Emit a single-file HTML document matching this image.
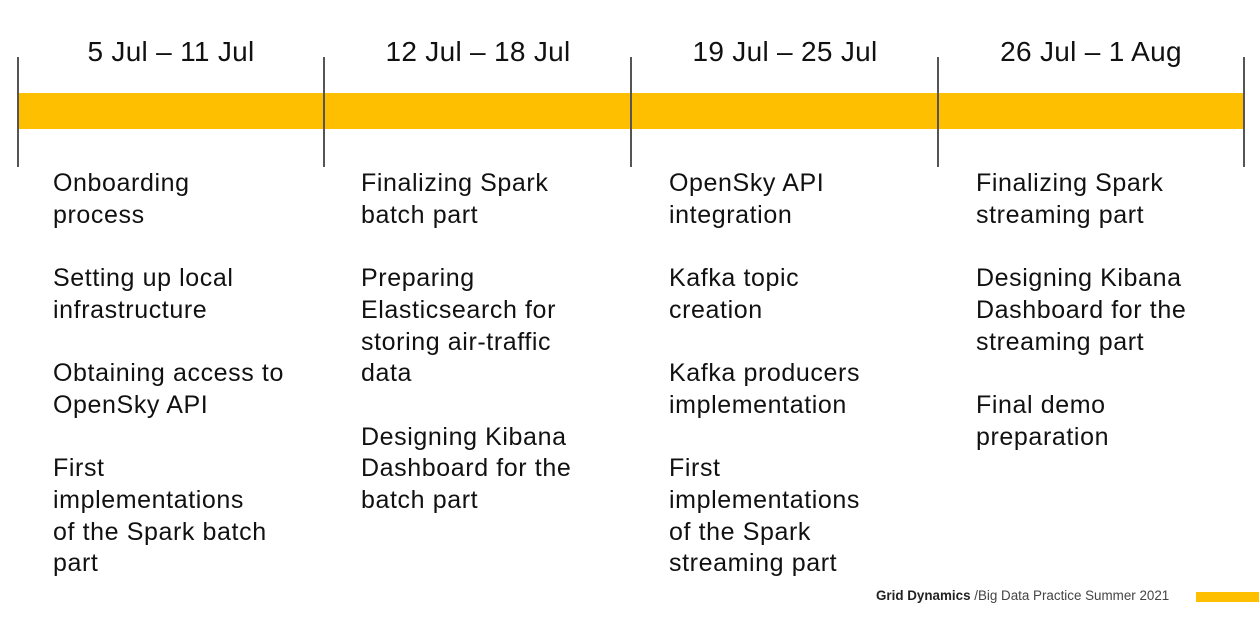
<!DOCTYPE html>
<html><head><meta charset="utf-8"><style>
body{margin:0;width:1259px;height:631px;background:#fff;position:relative;overflow:hidden;font-family:"Liberation Sans",sans-serif;color:#111}
.bar{position:absolute;left:18px;width:1226px;top:93px;height:36px;background:#fdbf00}
.vl{position:absolute;top:57px;width:2px;height:110px;background:#555}
.h{position:absolute;top:34px;width:306px;text-align:center;font-size:28px;line-height:36px;letter-spacing:0.3px}
.col{position:absolute;top:168px;font-size:25px;letter-spacing:0.6px;line-height:31.7px;width:280px}
.col p{margin:0 0 31.7px 0}
.foot{position:absolute;left:876px;top:588px;font-size:13.4px;color:#444}
.foot b{color:#222}
.fb{position:absolute;left:1196px;top:592px;width:63px;height:10px;background:#fdbf00}
</style></head><body>
<div class="bar"></div>
<div class="vl" style="left:17px"></div>
<div class="vl" style="left:323px"></div>
<div class="vl" style="left:630px"></div>
<div class="vl" style="left:937px"></div>
<div class="vl" style="left:1243px"></div>
<div class="h" style="left:18px">5 Jul – 11 Jul</div>
<div class="h" style="left:325px">12 Jul – 18 Jul</div>
<div class="h" style="left:632px">19 Jul – 25 Jul</div>
<div class="h" style="left:938px">26 Jul – 1 Aug</div>
<div class="col" style="left:53px"><p>Onboarding<br>process</p><p>Setting up local<br>infrastructure</p><p>Obtaining access to<br>OpenSky API</p><p>First<br>implementations<br>of the Spark batch<br>part</p></div>
<div class="col" style="left:361px"><p>Finalizing Spark<br>batch part</p><p>Preparing<br>Elasticsearch for<br>storing air-traffic<br>data</p><p>Designing Kibana<br>Dashboard for the<br>batch part</p></div>
<div class="col" style="left:669px"><p>OpenSky API<br>integration</p><p>Kafka topic<br>creation</p><p>Kafka producers<br>implementation</p><p>First<br>implementations<br>of the Spark<br>streaming part</p></div>
<div class="col" style="left:976px"><p>Finalizing Spark<br>streaming part</p><p>Designing Kibana<br>Dashboard for the<br>streaming part</p><p>Final demo<br>preparation</p></div>
<div class="foot"><b>Grid Dynamics</b> /Big Data Practice Summer 2021</div>
<div class="fb"></div>
</body></html>
